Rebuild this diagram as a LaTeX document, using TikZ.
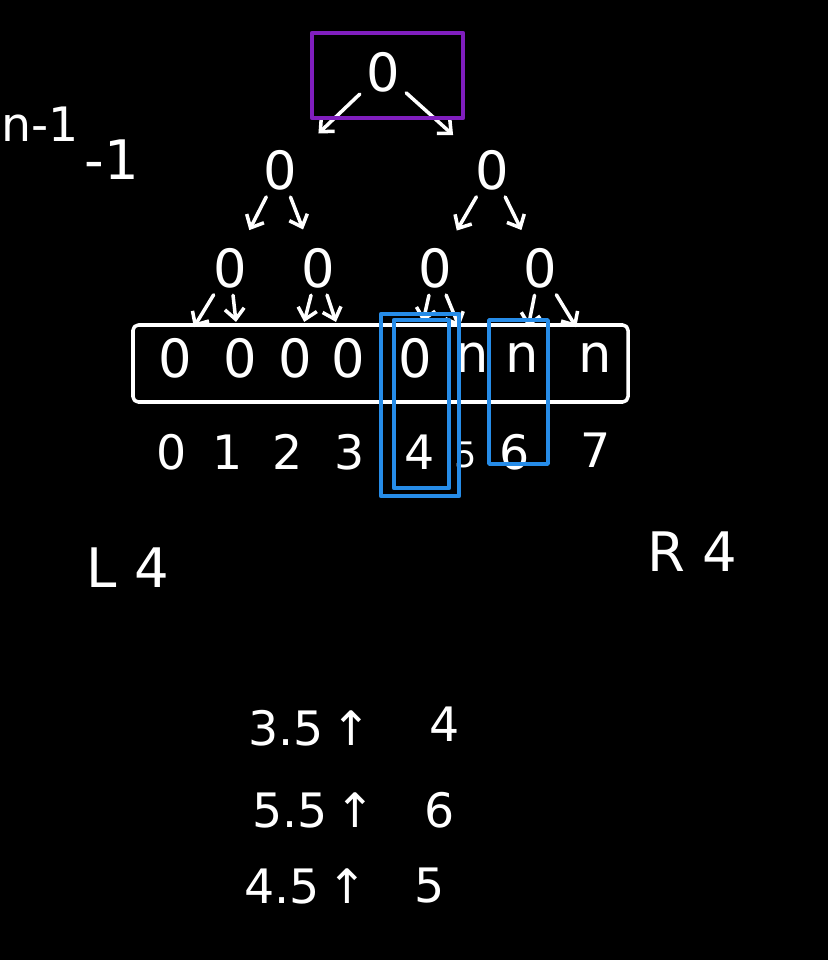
\documentclass[tikz,border=0pt]{standalone}
\usepackage{fontspec}
\setmainfont{DejaVu Sans}
\usetikzlibrary{arrows.meta}
\definecolor{penblue}{RGB}{38,140,232}
\definecolor{penpurple}{RGB}{128,30,190}
\tikzset{
	ink/.style={white, line width=2pt, line cap=round, line join=round},
	vtx/.style={text=white, font=\fontsize{30}{30}\selectfont, inner sep=2pt},
	leaf/.style={vtx, inner xsep=1pt, inner ysep=9pt},
	idx/.style={text=white, font=\fontsize{27}{27}\selectfont},
	note/.style={text=white, font=\fontsize{31}{31}\selectfont},
	small note/.style={text=white, font=\fontsize{27}{27}\selectfont},
	edge/.style={ink, -{Straight Barb[length=6pt,width=11pt]}},
}
\begin{document}
\begin{tikzpicture}[x=0.02cm, y=-0.02cm]
	\fill[black] (0,0) rectangle (828,960);
	\useasboundingbox (0,0) rectangle (828,960);
	% Arbol
		% Raiz
			\node[vtx] (r) at (383,72) {0};
		% Nivel 2
			\node[vtx] (a) at (280,170) {0};
			\node[vtx] (b) at (492,170) {0};
		% Nivel 3
			\node[vtx] (a1) at (230,268) {0};
			\node[vtx] (a2) at (318,268) {0};
			\node[vtx] (b1) at (435,268) {0};
			\node[vtx] (b2) at (540,268) {0};
		% Hojas
			\node[leaf] (l0) at (175,358) {0};
			\node[leaf] (l1) at (240,358) {0};
			\node[leaf] (l2) at (295,358) {0};
			\node[leaf] (l3) at (348,358) {0};
			\node[leaf] (l4) at (415,358) {0};
			\node[leaf] (l5) at (472,358) {n};
			\node[leaf] (l6) at (522,358) {n};
			\node[leaf] (l7) at (595,358) {n};
	% Flechas
		\draw[edge, shorten <=2pt, shorten >=14pt] (r) -- (a);
		\draw[edge, shorten <=2pt, shorten >=14pt] (r) -- (b);
		\draw[edge, shorten <=2pt, shorten >=9pt] (a) -- (a1);
		\draw[edge, shorten <=2pt, shorten >=9pt] (a) -- (a2);
		\draw[edge, shorten <=2pt, shorten >=9pt] (b) -- (b1);
		\draw[edge, shorten <=2pt, shorten >=9pt] (b) -- (b2);
		\draw[edge, shorten <=2pt] (a1) -- (l0);
		\draw[edge, shorten <=2pt] (a1) -- (l1);
		\draw[edge, shorten <=2pt] (a2) -- (l2);
		\draw[edge, shorten <=2pt] (a2) -- (l3);
		\draw[edge, shorten <=2pt] (b1) -- (l4);
		\draw[edge, shorten <=2pt] (b1) -- (l5);
		\draw[edge, shorten <=2pt] (b2) -- (l6);
		\draw[edge, shorten <=2pt] (b2) -- (l7);
	% Arreglo
		\draw[ink, rounded corners=3pt] (133,325) rectangle (628,402);
		\node[idx] (i0) at (172,452) {0};
		\node[idx] (i1) at (228,452) {1};
		\node[idx] (i2) at (288,452) {2};
		\node[idx] (i3) at (350,452) {3};
		\node[idx] (i4) at (420,452) {4};
		\node[idx, font=\fontsize{20}{20}\selectfont] (i5) at (466,455) {5};
		\node[idx] (i6) at (515,452) {6};
		\node[idx] (i7) at (596,450) {7};
	% Cajas
		\draw[penpurple, line width=2.6pt, line join=round] (312,33) rectangle (463,118);
		\draw[penblue, line width=2.4pt, line join=round] (381,314) rectangle (459,496);
		\draw[penblue, line width=2.4pt, line join=round] (394,320) rectangle (449,488);
		\draw[penblue, line width=2pt, line join=round] (489,320) rectangle (548,464);
	% Notas
		\node[small note, anchor=west, inner sep=0pt] (nm) at (1,124) {n-1};
		\node[note] (m1) at (112,160) {-1};
		\node[note] (lf) at (128,568) {L 4};
		\node[note] (rt) at (692,552) {R 4};
		\node[small note] (h1) at (310,728) {3.5\,↑};
		\node[small note] (v1) at (445,724) {4};
		\node[small note] (h2) at (314,810) {5.5\,↑};
		\node[small note] (v2) at (440,810) {6};
		\node[small note] (h3) at (306,886) {4.5\,↑};
		\node[small note] (v3) at (430,886) {5};
\end{tikzpicture}
\end{document}
